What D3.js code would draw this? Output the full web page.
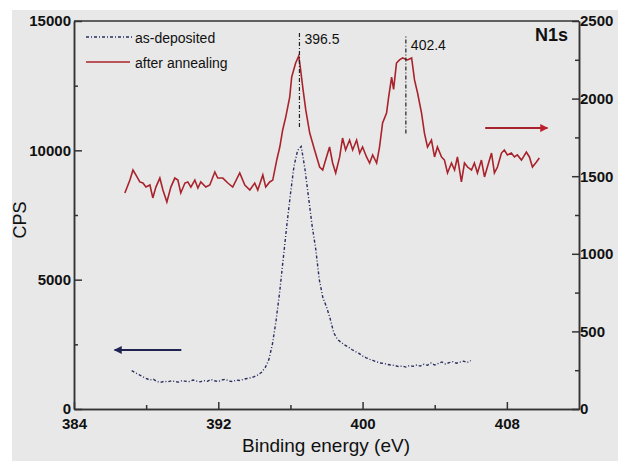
<!DOCTYPE html>
<meta charset="utf-8">
<script src="https://cdn.jsdelivr.net/npm/d3@7"></script>
<style>
body { margin: 0; background: #fff; }
text { font-family: "Liberation Sans", Arial, sans-serif; fill: #111; }
.axis .tick text { font-weight: bold; font-size: 15px; }
.axis path, .axis line { stroke: #333; stroke-width: 1.5px; }
</style>
<body>
<script>

// as-deposited: [binding energy (eV), CPS] -> left axis
var asDeposited = [
  [387.2,1480],[387.4,1400],[387.6,1330],[387.8,1250],[388.0,1180],[388.2,1120],[388.4,1150],
  [388.6,1060],[388.8,1030],[389.0,1070],[389.2,1050],[389.4,1090],[389.6,1060],[389.8,1040],
  [390.0,1100],[390.2,1070],[390.4,1060],[390.6,1120],[390.8,1080],[391.0,1050],[391.2,1100],
  [391.4,1070],[391.6,1140],[391.8,1090],[392.0,1060],[392.2,1120],[392.4,1150],[392.6,1080],
  [392.8,1060],[393.0,1120],[393.2,1100],[393.4,1150],[393.6,1180],[393.8,1210],[394.0,1250],
  [394.2,1320],[394.4,1420],[394.6,1600],[394.8,1900],[395.0,2500],[395.2,3400],[395.4,4500],
  [395.6,5800],[395.8,7100],[396.0,8300],[396.2,9400],[396.4,10000],[396.6,10150],[396.8,9300],
  [397.0,8200],[397.2,7100],[397.4,6200],[397.6,5000],[397.8,4300],[398.0,3950],[398.2,3500],
  [398.4,2950],[398.6,2700],[398.8,2580],[399.0,2480],[399.2,2400],[399.4,2300],[399.6,2220],
  [399.8,2150],[400.0,2050],[400.2,1980],[400.4,1920],[400.6,1870],[400.8,1820],[401.0,1780],
  [401.2,1760],[401.4,1720],[401.6,1700],[401.8,1680],[402.0,1640],[402.2,1660],[402.4,1620],
  [402.6,1680],[402.8,1650],[403.0,1700],[403.2,1660],[403.4,1730],[403.6,1690],[403.8,1780],
  [404.0,1700],[404.2,1760],[404.4,1820],[404.6,1740],[404.8,1790],[405.0,1830],[405.2,1770],
  [405.4,1810],[405.6,1850],[405.8,1800],[406.0,1870]
];

// after annealing: [binding energy (eV), CPS] -> right axis
var afterAnnealing = [
  [386.82,1392],[387.10,1475],[387.27,1540],[387.43,1508],[387.65,1463],[387.82,1456],[387.99,1430],
  [388.21,1443],[388.37,1360],[388.54,1430],[388.76,1488],[388.93,1411],[389.15,1334],[389.37,1430],
  [389.59,1488],[389.76,1475],[389.92,1392],[390.15,1456],[390.31,1463],[390.48,1430],[390.70,1475],
  [390.87,1424],[391.03,1463],[391.31,1430],[391.53,1443],[391.81,1527],[391.97,1488],[392.25,1488],
  [392.53,1456],[392.80,1430],[393.19,1521],[393.47,1443],[393.75,1411],[394.02,1456],[394.19,1411],
  [394.47,1508],[394.63,1430],[394.85,1463],[395.02,1475],[395.24,1604],[395.41,1688],[395.57,1798],
  [395.74,1881],[395.96,2010],[396.07,2139],[396.18,2184],[396.29,2229],[396.46,2275],[396.55,2200],
  [396.68,2075],[396.85,1927],[397.07,1778],[397.34,1669],[397.62,1559],[397.79,1540],[397.95,1604],
  [398.17,1688],[398.34,1585],[398.51,1521],[398.73,1624],[398.89,1746],[399.06,1669],[399.28,1733],
  [399.45,1669],[399.67,1733],[399.84,1649],[400.00,1688],[400.22,1624],[400.39,1585],[400.56,1637],
  [400.78,1585],[400.94,1688],[401.11,1843],[401.33,1907],[401.44,2004],[401.61,2139],[401.72,2060],
  [401.88,2229],[402.05,2249],[402.22,2262],[402.49,2249],[402.72,2262],[402.88,2120],[403.05,2036],
  [403.27,1907],[403.43,1778],[403.60,1688],[403.82,1733],[403.99,1624],[404.15,1688],[404.38,1624],
  [404.54,1604],[404.71,1521],[404.93,1585],[405.10,1540],[405.26,1624],[405.48,1463],[405.65,1585],
  [405.82,1559],[406.04,1540],[406.20,1585],[406.37,1521],[406.59,1604],[406.76,1495],[406.92,1559],
  [407.15,1649],[407.31,1521],[407.48,1559],[407.70,1649],[407.86,1669],[408.03,1637],[408.25,1649],
  [408.42,1624],[408.58,1637],[408.81,1604],[409.08,1656],[409.25,1624],[409.42,1559],[409.64,1591],
  [409.80,1617]
];

var xTicks = [384, 392, 400, 408],
    xMinor = [388, 396, 404],
    yLeftTicks = [0, 5000, 10000, 15000],
    yLeftMinor = [2500, 7500, 12500],
    yRightTicks = [0, 500, 1000, 1500, 2000, 2500],
    yRightMinor = [250, 750, 1250, 1750, 2250];

// peak markers: energy, label, CPS range of the vertical line (left axis)
var peaks = [
  {e: 396.5, label: "396.5", y0: 10900, y1: 14600},
  {e: 402.4, label: "402.4", y0: 10650, y1: 14400}
];

var width = 618, height = 461;
var mLeft = 74, mRight = 579, mTop = 21, mBottom = 409;

var svg = d3.select("body").append("svg")
    .attr("width", width)
    .attr("height", height);

svg.append("rect")
    .attr("x", 12).attr("y", 10)
    .attr("width", width - 12).attr("height", height - 10)
    .attr("fill", "#e8e8e8");

var x = d3.scaleLinear().domain([384, 412]).range([mLeft, mRight]);
var yL = d3.scaleLinear().domain([0, 15000]).range([mBottom, mTop]);
var yR = d3.scaleLinear().domain([0, 2500]).range([mBottom, mTop]);

// frame top line
svg.append("line")
    .attr("x1", mLeft).attr("x2", mRight)
    .attr("y1", mTop).attr("y2", mTop)
    .attr("stroke", "#333").attr("stroke-width", 1.5);

// minor ticks
svg.append("g").attr("class", "axis")
    .attr("transform", "translate(0," + mBottom + ")")
    .call(d3.axisBottom(x).tickValues(xMinor).tickSize(-4).tickSizeOuter(0).tickFormat(""));
svg.append("g").attr("class", "axis")
    .attr("transform", "translate(" + mLeft + ",0)")
    .call(d3.axisLeft(yL).tickValues(yLeftMinor).tickSize(-4).tickSizeOuter(0).tickFormat(""));
svg.append("g").attr("class", "axis")
    .attr("transform", "translate(" + mRight + ",0)")
    .call(d3.axisRight(yR).tickValues(yRightMinor).tickSize(-4).tickSizeOuter(0).tickFormat(""));

// major axes
svg.append("g").attr("class", "axis")
    .attr("transform", "translate(0," + mBottom + ")")
    .call(d3.axisBottom(x).tickValues(xTicks).tickSize(-7).tickSizeOuter(0).tickPadding(9).tickFormat(d3.format("d")));
svg.append("g").attr("class", "axis")
    .attr("transform", "translate(" + mLeft + ",0)")
    .call(d3.axisLeft(yL).tickValues(yLeftTicks).tickSize(-8).tickSizeOuter(0).tickPadding(3).tickFormat(d3.format("d")));
svg.append("g").attr("class", "axis")
    .attr("transform", "translate(" + mRight + ",0)")
    .call(d3.axisRight(yR).tickValues(yRightTicks).tickSize(-7).tickSizeOuter(0).tickPadding(1).tickFormat(d3.format("d")));

svg.selectAll(".axis .tick text").attr("fill", "#111");

// curves
var lineL = d3.line().x(function(d) { return x(d[0]); }).y(function(d) { return yL(d[1]); });
var lineR = d3.line().x(function(d) { return x(d[0]); }).y(function(d) { return yR(d[1]); });

svg.append("path")
    .datum(asDeposited)
    .attr("d", lineL)
    .attr("fill", "none")
    .attr("stroke", "#2a2f60")
    .attr("stroke-width", 1.4)
    .attr("stroke-dasharray", "3,2,1,2");

svg.append("path")
    .datum(afterAnnealing)
    .attr("d", lineR)
    .attr("fill", "none")
    .attr("stroke", "#a8232b")
    .attr("stroke-width", 1.6);

// peak annotations
peaks.forEach(function(p) {
  svg.append("line")
      .attr("x1", x(p.e)).attr("x2", x(p.e))
      .attr("y1", yL(p.y0)).attr("y2", yL(p.y1))
      .attr("stroke", "#222").attr("stroke-width", 1.2)
      .attr("stroke-dasharray", "4,2,1,2");
  svg.append("text")
      .attr("x", x(p.e) + 5).attr("y", yL(p.y1) + 13)
      .style("font-size", "14px")
      .text(p.label);
});

svg.append("text")
    .attr("x", 568).attr("y", 41)
    .attr("text-anchor", "end")
    .style("font-size", "18px").style("font-weight", "bold")
    .text("N1s");

// legend
svg.append("line")
    .attr("x1", 86).attr("x2", 133).attr("y1", 37).attr("y2", 37)
    .attr("stroke", "#2a2f60").attr("stroke-width", 1.4)
    .attr("stroke-dasharray", "3,2,1,2");
svg.append("text").attr("x", 135).attr("y", 43)
    .style("font-size", "14px").text("as-deposited");
svg.append("line")
    .attr("x1", 86).attr("x2", 130).attr("y1", 62).attr("y2", 62)
    .attr("stroke", "#a8232b").attr("stroke-width", 1.6);
svg.append("text").attr("x", 135).attr("y", 68)
    .style("font-size", "14px").text("after annealing");

// arrows
var defs = svg.append("defs");
function marker(id, color) {
  defs.append("marker")
      .attr("id", id)
      .attr("viewBox", "0 0 10 10")
      .attr("refX", 9).attr("refY", 5)
      .attr("markerWidth", 5).attr("markerHeight", 4)
      .attr("orient", "auto")
      .append("path")
      .attr("d", "M0,0L10,5L0,10Z")
      .attr("fill", color);
}
marker("arrRed", "#c0202a");
marker("arrBlue", "#1f2350");

svg.append("line")
    .attr("x1", x(406.8)).attr("x2", x(410.25))
    .attr("y1", yR(1810)).attr("y2", yR(1810))
    .attr("stroke", "#a8232b").attr("stroke-width", 2)
    .attr("marker-end", "url(#arrRed)");
svg.append("line")
    .attr("x1", x(389.95)).attr("x2", x(386.25))
    .attr("y1", yL(2280)).attr("y2", yL(2280))
    .attr("stroke", "#1f2350").attr("stroke-width", 2)
    .attr("marker-end", "url(#arrBlue)");

// axis titles
svg.append("text")
    .attr("transform", "translate(26,220) rotate(-90)")
    .attr("text-anchor", "middle")
    .style("font-size", "18px")
    .text("CPS");
svg.append("text")
    .attr("x", 326).attr("y", 452)
    .attr("text-anchor", "middle")
    .style("font-size", "19px")
    .text("Binding energy (eV)");

</script>
</body>
